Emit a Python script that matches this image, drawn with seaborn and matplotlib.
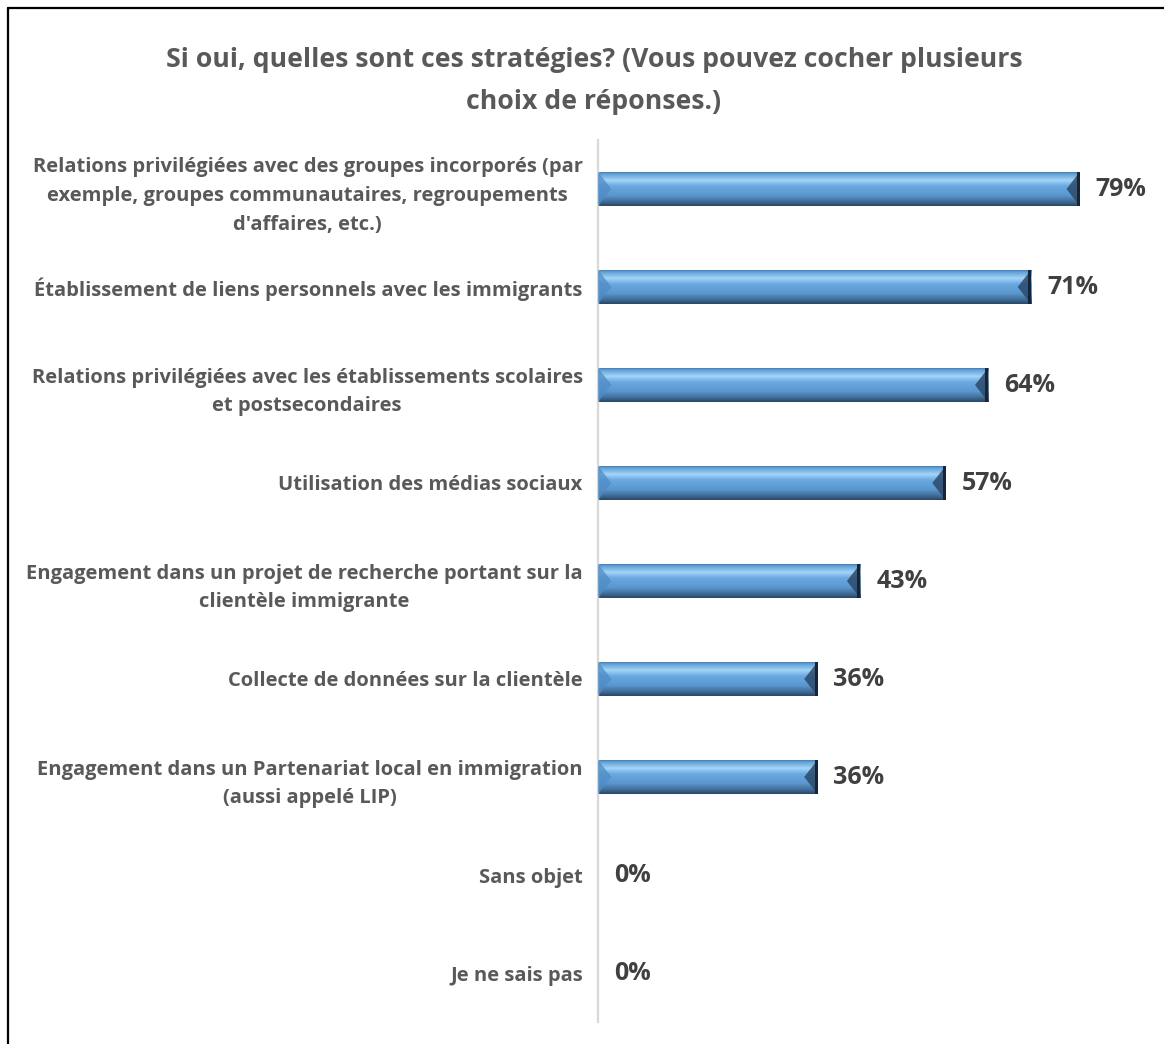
import numpy as np
import pandas as pd
import matplotlib
matplotlib.use("Agg")
import matplotlib.pyplot as plt
from matplotlib.colors import LinearSegmentedColormap
from matplotlib.patches import Polygon
from matplotlib.lines import Line2D
import seaborn as sns

# Survey responses (multiple answers allowed)
categories = [
    "Relations privilégiées avec des groupes incorporés (par\nexemple, groupes communautaires, regroupements\nd'affaires, etc.)",
    "Établissement de liens personnels avec les immigrants",
    "Relations privilégiées avec les établissements scolaires\net postsecondaires",
    "Utilisation des médias sociaux",
    "Engagement dans un projet de recherche portant sur la\nclientèle immigrante",
    "Collecte de données sur la clientèle",
    "Engagement dans un Partenariat local en immigration\n(aussi appelé LIP)",
    "Sans objet",
    "Je ne sais pas",
]
values = [79, 71, 64, 57, 43, 36, 36, 0, 0]
title = "Si oui, quelles sont ces stratégies? (Vous pouvez cocher plusieurs\nchoix de réponses.)"

sns.set_theme(style="white")
plt.rcParams["font.family"] = ["Open Sans", "DejaVu Sans"]

W, H = 1164, 1044
fig = plt.figure(figsize=(W / 100, H / 100), dpi=100)
ax = fig.add_axes([598 / W, 22 / H, 549 / W, 882 / H])

df = pd.DataFrame({"strategie": categories, "pct": values})
sns.barplot(data=df, y="strategie", x="pct", orient="h", ax=ax,
            color="#5b9bd5", saturation=1, width=0.35)

# Bevelled look: vertical gradient inside each bar plus shaded end caps
grad = LinearSegmentedColormap.from_list("bevel", [
    (0.00, "#3b6b9b"),
    (0.07, "#5f9ed6"),
    (0.26, "#a4d6f7"),
    (0.42, "#6aa9e1"),
    (0.70, "#5b97cf"),
    (0.87, "#416f9c"),
    (1.00, "#2a4868"),
])
g = np.linspace(0, 1, 64).reshape(-1, 1)
bev = 2.2  # bevel depth in data units
for p in list(ax.patches):
    x0, y0, w, h = p.get_x(), p.get_y(), p.get_width(), p.get_height()
    if w <= 0:
        continue
    im = ax.imshow(g, cmap=grad, aspect="auto", extent=(x0, x0 + w, y0 + h, y0),
                   origin="upper", zorder=2, interpolation="bilinear")
    im.set_clip_path(p)
    ym = y0 + h / 2
    # left cap (lit)
    ax.add_patch(Polygon([(x0, y0), (x0 + bev, ym), (x0, y0 + h)], closed=True,
                         facecolor="#4f8bc4", edgecolor="none", alpha=0.75, zorder=3))
    # right cap (shadowed)
    ax.add_patch(Polygon([(x0 + w, y0), (x0 + w - bev, ym), (x0 + w, y0 + h)], closed=True,
                         facecolor="#2b4a6c", edgecolor="none", alpha=0.85, zorder=3))
    ax.add_patch(Polygon([(x0 + w - 0.5, y0), (x0 + w, y0), (x0 + w, y0 + h), (x0 + w - 0.5, y0 + h)],
                         closed=True, facecolor="#15263a", edgecolor="none", zorder=3))
    p.set_facecolor("none")

ax.set_xlim(0, 90)
ax.set_ylim(len(categories) - 0.5, -0.5)
ax.set_xlabel("")
ax.set_ylabel("")
ax.set_xticks([])
ax.tick_params(axis="y", length=0, pad=11)
for lab in ax.get_yticklabels():
    lab.set_fontsize(14.5)
    lab.set_fontweight("bold")
    lab.set_color("#595959")
    lab.set_multialignment("center")
    lab.set_linespacing(1.6)

for s in ["top", "right", "bottom"]:
    ax.spines[s].set_visible(False)
ax.spines["left"].set_color("#d9d9d9")
ax.spines["left"].set_linewidth(1.6)
ax.set_facecolor("none")

for i, v in enumerate(values):
    ax.text(v + 2.6, i, f"{v}%", va="center", ha="left", fontsize=18,
            fontweight="bold", color="#404040")

fig.text(594 / W, 1 - 81 / H, title, ha="center", va="center", fontsize=19.2,
         fontweight="bold", color="#595959", linespacing=1.78)

# Chart frame
fig.add_artist(Line2D([8 / W, 8 / W], [0, 1 - 8 / H], transform=fig.transFigure,
                      color="black", linewidth=1.6))
fig.add_artist(Line2D([8 / W, 1], [1 - 8 / H, 1 - 8 / H], transform=fig.transFigure,
                      color="black", linewidth=1.6))

fig.savefig("out.png", dpi=100, facecolor="white")
